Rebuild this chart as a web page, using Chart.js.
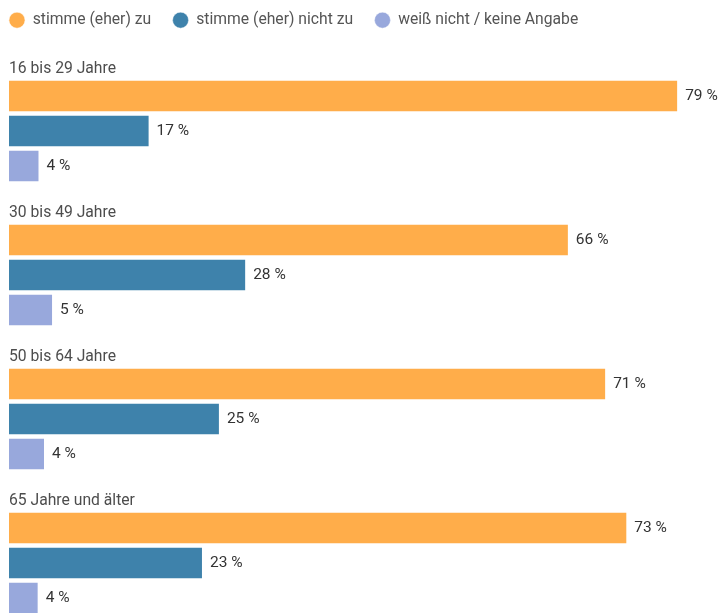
<!DOCTYPE html>
<html>
<head>
<meta charset="utf-8">
<script src="https://cdn.jsdelivr.net/npm/chart.js@4"></script>
<style>
  html, body { margin: 0; padding: 0; background: #fff; overflow: hidden; }
  #wrap { width: 720px; height: 618px; position: relative; }
</style>
</head>
<body>
<div id="wrap"><canvas id="ageChart"></canvas></div>
<script>
const groups = ['16 bis 29 Jahre', '30 bis 49 Jahre', '50 bis 64 Jahre', '65 Jahre und älter'];
const seriesNames = ['stimme (eher) zu', 'stimme (eher) nicht zu', 'weiß nicht / keine Angabe'];
const agree = [79, 66.1, 70.5, 73];
const disagree = [16.6, 28, 24.9, 22.9];
const dontKnow = [3.6, 5.2, 4.25, 3.5];
const colors = ['#FFAD4A', '#3E82AB', '#98A8DC'];

// pushes the legend to the left edge and up a bit
const legendShift = {
  id: 'legendShift',
  afterLayout(chart) {
    chart.legend.left -= 21.35;
    chart.legend.top -= 3.5;
  }
};

// group titles above each block and value labels after each bar
const barLabels = {
  id: 'barLabels',
  afterDatasetsDraw(chart) {
    const ctx = chart.ctx;
    const area = chart.chartArea;
    ctx.save();

    const first = chart.getDatasetMeta(1);
    ctx.font = '15.7px Roboto';
    ctx.fillStyle = '#4d4d4d';
    ctx.textBaseline = 'alphabetic';
    ctx.textAlign = 'left';
    first.data.forEach((bar, i) => {
      const top = bar.y - bar.height / 2;
      ctx.fillText(groups[i], area.left, top - 6.5);
    });

    ctx.font = '15.5px Roboto';
    ctx.fillStyle = '#333';
    ctx.textBaseline = 'middle';
    for (let d = 1; d < chart.data.datasets.length; d++) {
      const meta = chart.getDatasetMeta(d);
      meta.data.forEach((bar, i) => {
        const v = chart.data.datasets[d].data[i];
        ctx.fillText(Math.round(v) + ' %', bar.x + 7, bar.y + 0.5);
      });
    }
    ctx.restore();
  }
};

Chart.defaults.font.family = 'Roboto';
Chart.defaults.font.size = 15;

const ctx = document.getElementById('ageChart').getContext('2d');
new Chart(ctx, {
  type: 'bar',
  data: {
    labels: groups,
    datasets: [
      { label: '', data: [null, null, null, null], backgroundColor: 'rgba(0,0,0,0)' },
      { label: seriesNames[0], data: agree, backgroundColor: colors[0], borderColor: 'rgba(255,255,255,0.45)', borderWidth: 1 },
      { label: seriesNames[1], data: disagree, backgroundColor: colors[1], borderColor: 'rgba(255,255,255,0.45)', borderWidth: 1 },
      { label: seriesNames[2], data: dontKnow, backgroundColor: colors[2], borderColor: 'rgba(255,255,255,0.45)', borderWidth: 1 }
    ]
  },
  options: {
    indexAxis: 'y',
    responsive: true,
    maintainAspectRatio: false,
    animation: false,
    categoryPercentage: 140 / 144,
    barPercentage: 32.5 / 35,
    layout: {
      padding: { top: -5.7, left: 9, right: 33.4, bottom: 0.5 }
    },
    scales: {
      x: { min: 0, max: 80, display: false },
      y: { display: false }
    },
    plugins: {
      tooltip: { enabled: false },
      legend: {
        position: 'top',
        align: 'start',
        labels: {
          usePointStyle: true,
          pointStyle: 'circle',
          boxHeight: 11.3,
          padding: 21.5,
          color: '#555',
          font: { size: 15.7 },
          filter: item => item.datasetIndex > 0
        }
      }
    }
  },
  plugins: [legendShift, barLabels]
});
</script>
</body>
</html>
